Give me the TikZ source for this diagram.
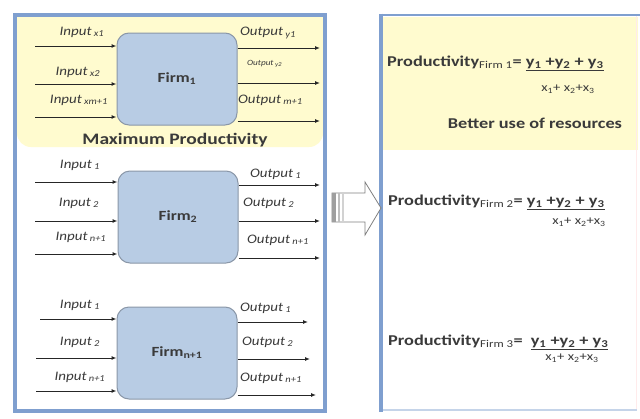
\documentclass[tikz,border=0pt]{standalone}
\usepackage{fontspec}
\setmainfont{Carlito}
\newfontfamily\labfont[FakeStretch=1.15]{Carlito}
\newfontfamily\widefont[FakeStretch=1.22]{Carlito}
\usetikzlibrary{arrows.meta}
\definecolor{pblue}{HTML}{7F9FCF}
\definecolor{pyellow}{HTML}{FFFBCF}
\definecolor{firmfill}{HTML}{B8CCE4}
\definecolor{firmdraw}{HTML}{8A97A8}
\definecolor{txt}{HTML}{3A3A3A}
\begin{document}
\begin{tikzpicture}[x=1pt,y=-1pt,
 firm/.style={draw=firmdraw, line width=1pt, fill=firmfill, rounded corners=12pt,
   minimum width=120pt, minimum height=92pt, inner sep=0pt,
   font=\widefont\fontsize{14}{16}\selectfont\bfseries, text=txt},
 inlab/.style={font=\labfont\fontsize{13}{15}\selectfont\itshape, text=txt, inner sep=0pt},
 outlab/.style={inlab, anchor=west},
 flow/.style={draw=black!85, line width=1pt, -{Latex[length=5pt,width=4pt]}},
 prod/.style={font=\widefont\fontsize{15}{17}\selectfont\bfseries, text=txt, inner sep=0pt, anchor=west},
 den/.style={font=\widefont\fontsize{12}{14}\selectfont, text=txt, inner sep=0pt},
]
\useasboundingbox (0,0) rectangle (640,418);
\fill[white] (0,0) rectangle (640,418);

% left panel
\fill[pyellow] (17,17) rectangle (323,120);
\fill[pyellow, rounded corners=14pt] (17,17) rectangle (323,147);
\draw[pblue, line width=3.5pt] (15,15) rectangle (325,411);

% right panel
\fill[pyellow] (383,17) rectangle (638,150);
\draw[red!8, line width=1pt] (636,16) -- (636,410);
\draw[pblue!45, line width=1.5pt] (381,410) -- (637,410);
\draw[pblue, line width=2.5pt] (380,15) -- (640,15);
\draw[pblue, line width=4pt] (381,13.5) -- (381,412);

% firms
\node[firm] (f1) at (177,79) {Firm\textsubscript{1}};
\node[firm] (f2) at (178,217) {Firm\textsubscript{2}};
\node[firm] (f3) at (177,353) {Firm\textsubscript{n+1}};

% coordinates
\coordinate (i11) at (35,46);  \coordinate (i12) at (35,84);  \coordinate (i13) at (35,117);
\coordinate (o11) at (320,48); \coordinate (o12) at (320,83); \coordinate (o13) at (320,121);
\coordinate (i21) at (35,182); \coordinate (i22) at (35,221); \coordinate (i23) at (35,254);
\coordinate (o21) at (320,185);\coordinate (o22) at (320,221);\coordinate (o23) at (320,258);
\coordinate (i31) at (40,319); \coordinate (i32) at (36,358); \coordinate (i33) at (36,391);
\coordinate (o31) at (308,322);\coordinate (o32) at (310,359);\coordinate (o33) at (316,395);

\foreach \f in {1,2,3}{
  \foreach \k in {1,2,3}{
    \draw[flow] (i\f\k) -- (i\f\k -| f\f.west);
    \draw[flow] (o\f\k -| f\f.east) -- (o\f\k);
  }
}

% labels firm 1
\node[inlab] (li11) at (82,32) {Input\textsubscript{ x1}};
\node[inlab] (li12) at (78,72) {Input\textsubscript{ x2}};
\node[inlab] (li13) at (79,100) {Input\textsubscript{ xm+1}};
\node[outlab] (lo11) at (240,33) {Output\textsubscript{ y1}};
\node[outlab, font=\labfont\fontsize{8}{9}\selectfont\itshape] (lo12) at (247,64) {Output\textsubscript{ y2}};
\node[outlab] (lo13) at (238,100) {Output\textsubscript{ m+1}};
\node[font=\widefont\fontsize{16}{18}\selectfont\bfseries, text=txt, inner sep=0pt] (max) at (175,140) {Maximum Productivity};

% labels firm 2
\node[inlab] (li21) at (80,165) {Input\textsubscript{ 1}};
\node[inlab] (li22) at (79,203) {Input\textsubscript{ 2}};
\node[inlab] (li23) at (81,237) {Input\textsubscript{ n+1}};
\node[outlab] (lo21) at (250,174) {Output\textsubscript{ 1}};
\node[outlab] (lo22) at (243,203) {Output\textsubscript{ 2}};
\node[outlab] (lo23) at (247,240) {Output\textsubscript{ n+1}};

% labels firm 3
\node[inlab] (li31) at (80,305) {Input\textsubscript{ 1}};
\node[inlab] (li32) at (80,342) {Input\textsubscript{ 2}};
\node[inlab] (li33) at (80,377) {Input\textsubscript{ n+1}};
\node[outlab] (lo31) at (240,308) {Output\textsubscript{ 1}};
\node[outlab] (lo32) at (242,342) {Output\textsubscript{ 2}};
\node[outlab] (lo33) at (240,378) {Output\textsubscript{ n+1}};

% block arrow
\draw[gray, line width=0.8pt, fill=white] (332,193) -- (365,193) -- (365,182) -- (381,208)
  -- (365,235) -- (365,222) -- (332,222) -- cycle;
\fill[gray!75] (332,193) rectangle (336,222);
\fill[gray!50] (338,193) rectangle (340,222);
\fill[gray!35] (342,193) rectangle (343.5,222);

% right panel text
\node[prod] (p1) at (387,63) {Productivity\textsubscript{\mdseries Firm 1}= \underline{y\textsubscript{1} +y\textsubscript{2} + y\textsubscript{3}}};
\node[den] (d1) at (568,89) {x\textsubscript{1}+ x\textsubscript{2}+x\textsubscript{3}};
\node[prod, anchor=center] (b1) at (535,123) {Better use of resources};

\node[prod] (p2) at (388,202) {Productivity\textsubscript{\mdseries Firm 2}= \underline{y\textsubscript{1} +y\textsubscript{2} + y\textsubscript{3}}};
\node[den] (d2) at (579,222) {x\textsubscript{1}+ x\textsubscript{2}+x\textsubscript{3}};

\node[prod] (p3) at (388,342) {Productivity\textsubscript{\mdseries Firm 3}=\hspace{8pt}\underline{y\textsubscript{1} +y\textsubscript{2} + y\textsubscript{3}}};
\node[den] (d3) at (572,358) {x\textsubscript{1}+ x\textsubscript{2}+x\textsubscript{3}};
\end{tikzpicture}
\end{document}
